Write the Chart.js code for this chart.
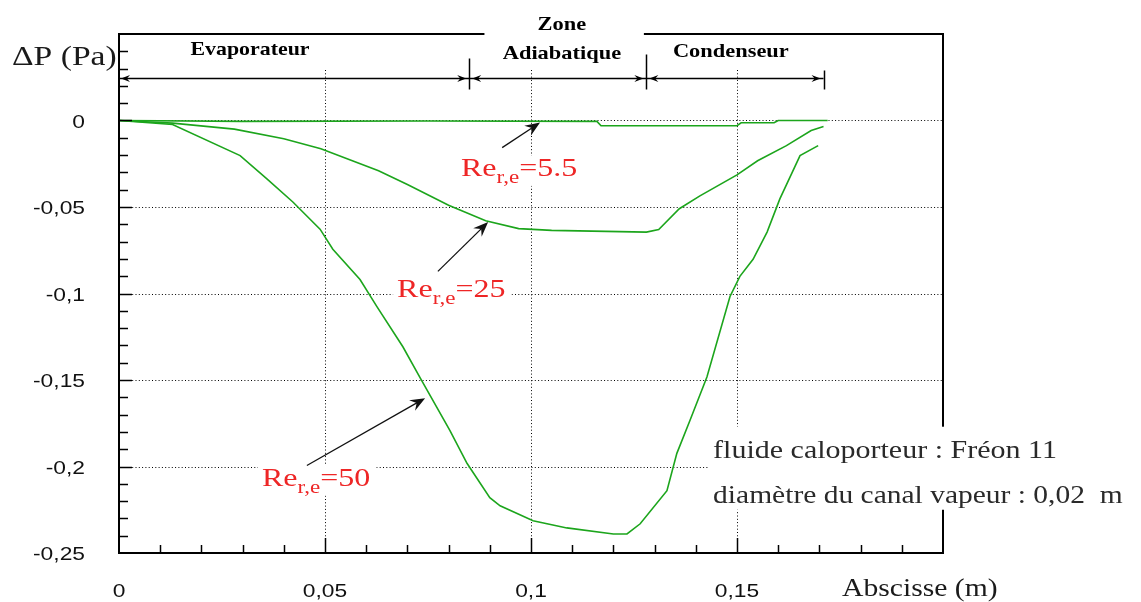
<!DOCTYPE html>
<html>
<head>
<meta charset="utf-8">
<script src="https://cdn.jsdelivr.net/npm/chart.js@4/dist/chart.umd.min.js"></script>
<style>
  html, body { margin: 0; padding: 0; background: #fff; }
  canvas { display: block; }
</style>
</head>
<body>
<canvas id="dpChart" width="1141" height="602"></canvas>
<script>
// abscissa along the heat pipe (m) and pressure drop (Pa)
const xRe55 = [0, 0.03, 0.075, 0.116, 0.117, 0.15, 0.151, 0.159, 0.16, 0.172];
const yRe55 = [0, -0.0005, -0.0003, -0.0005, -0.003, -0.003, -0.0013, -0.0013, 0, 0];

const xRe25 = [0, 0.013, 0.028, 0.04, 0.049, 0.063, 0.07, 0.08, 0.089, 0.097, 0.105, 0.128, 0.131, 0.136, 0.141, 0.15, 0.155, 0.162, 0.168, 0.171];
const yRe25 = [0, -0.0015, -0.005, -0.0105, -0.0163, -0.029, -0.037, -0.049, -0.058, -0.0625, -0.0635, -0.0645, -0.063, -0.051, -0.0436, -0.0314, -0.0233, -0.0145, -0.0058, -0.0035];

const xRe50 = [0, 0.013, 0.0294, 0.0359, 0.0422, 0.0488, 0.0519, 0.0585, 0.0626, 0.0689, 0.0731, 0.0803, 0.0845, 0.09, 0.0925, 0.1005, 0.1087, 0.12, 0.1233, 0.1265, 0.133, 0.1354, 0.1386, 0.1427, 0.1483, 0.1507, 0.1539, 0.1573, 0.1604, 0.1653, 0.1697];
const yRe50 = [0, -0.0023, -0.0203, -0.0337, -0.0471, -0.0628, -0.0744, -0.0919, -0.1076, -0.1308, -0.1488, -0.1791, -0.1983, -0.218, -0.2227, -0.2314, -0.2355, -0.239, -0.239, -0.2331, -0.214, -0.1924, -0.1733, -0.1483, -0.1017, -0.0901, -0.0802, -0.0645, -0.0453, -0.0203, -0.0145];

// tick labels
const xTickValues = [0, 0.05, 0.1, 0.15];
const xTickLabels = ['0', '0,05', '0,1', '0,15'];
const yTickValues = [0, -0.05, -0.1, -0.15, -0.2, -0.25];
const yTickLabels = ['0', '-0,05', '-0,1', '-0,15', '-0,2', '-0,25'];

// zones of the heat pipe (m)
const zoneEdges = [0, 0.085, 0.128, 0.171];

// curve labels: [text value, label x, label y, arrow tail x, tail y, tip x, tip y] in data units
const curveNotes = [
  ['5.5', 0.083, -0.032, 0.093, -0.0157, 0.1022, -0.0012],
  ['25', 0.0675, -0.1023, 0.0774, -0.0872, 0.0896, -0.0587],
  ['50', 0.0347, -0.211, 0.0456, -0.1994, 0.0743, -0.1605]
];

const GREEN = '#1ca51c';
const RED = '#ee2626';

function stretchedText(ctx, str, x, y, font, color, align, sx) {
  ctx.save();
  ctx.font = font;
  const w = ctx.measureText(str).width * sx;
  let left = x;
  if (align === 'center') left = x - w / 2;
  else if (align === 'right') left = x - w;
  ctx.translate(left, y);
  ctx.scale(sx, 1);
  ctx.fillStyle = color;
  ctx.textAlign = 'left';
  ctx.textBaseline = 'alphabetic';
  ctx.fillText(str, 0, 0);
  ctx.restore();
  return w;
}

function textWidth(ctx, str, font, sx) {
  ctx.save();
  ctx.font = font;
  const w = ctx.measureText(str).width * sx;
  ctx.restore();
  return w;
}

function arrowHead(ctx, tipX, tipY, angle, len, half) {
  ctx.save();
  ctx.translate(tipX, tipY);
  ctx.rotate(angle);
  ctx.beginPath();
  ctx.moveTo(0, 0);
  ctx.lineTo(-len, -half);
  ctx.lineTo(-len * 0.65, 0);
  ctx.lineTo(-len, half);
  ctx.closePath();
  ctx.fill();
  ctx.restore();
}

const paperPlugin = {
  id: 'paper',
  beforeDatasetsDraw(chart) {
    const ctx = chart.ctx;
    const xs = chart.scales.x, ys = chart.scales.y;
    const { left, right, top, bottom } = chart.chartArea;
    ctx.save();
    ctx.strokeStyle = '#000';
    ctx.lineWidth = 1;
    ctx.setLineDash([1, 2.3]);
    yTickValues.forEach(v => {
      if (v === -0.25) return;
      const py = Math.round(ys.getPixelForValue(v)) + 0.5;
      ctx.beginPath(); ctx.moveTo(left, py); ctx.lineTo(right, py); ctx.stroke();
    });
    xTickValues.forEach(v => {
      if (v === 0) return;
      const px = Math.round(xs.getPixelForValue(v)) + 0.5;
      ctx.beginPath(); ctx.moveTo(px, top + 36); ctx.lineTo(px, bottom); ctx.stroke();
    });
    ctx.restore();
  },
  afterDraw(chart) {
    const ctx = chart.ctx;
    const xs = chart.scales.x, ys = chart.scales.y;
    const { left, right, top, bottom } = chart.chartArea;
    const X = v => xs.getPixelForValue(v);
    const Y = v => ys.getPixelForValue(v);

    ctx.save();
    // frame
    ctx.strokeStyle = '#000';
    ctx.lineWidth = 2;
    ctx.strokeRect(left, top, right - left, bottom - top);

    // inward ticks every 0.01
    ctx.lineWidth = 1.5;
    for (let i = -24; i <= 4; i++) {
      const py = Math.round(Y(i / 100)) + 0.5;
      const len = i % 5 === 0 ? 13 : 9;
      ctx.beginPath(); ctx.moveTo(left, py); ctx.lineTo(left + len, py); ctx.stroke();
    }
    for (let i = 1; i <= 19; i++) {
      const px = Math.round(X(i / 100)) + 0.5;
      const len = i % 5 === 0 ? 15 : 8;
      ctx.beginPath(); ctx.moveTo(px, bottom); ctx.lineTo(px, bottom - len); ctx.stroke();
    }

    // tick labels
    const tickFont = '19px "Liberation Sans", Arial, sans-serif';
    yTickValues.forEach((v, i) => {
      stretchedText(ctx, yTickLabels[i], left - 34, Y(v) + 7, tickFont, '#111', 'right', 1.2);
    });
    xTickValues.forEach((v, i) => {
      stretchedText(ctx, xTickLabels[i], X(v), bottom + 44, tickFont, '#111', 'center', 1.2);
    });

    // axis titles
    const serif = '"Liberation Serif", "Times New Roman", serif';
    stretchedText(ctx, 'ΔP (Pa)', 12, 65, '28px ' + serif, '#1a1a1a', 'left', 1.2);
    stretchedText(ctx, 'Abscisse (m)', 842, bottom + 43, '26px ' + serif, '#1a1a1a', 'left', 1.14);

    // zone brackets
    const bracketY = Math.round(Y(0.0244)) + 0.5;
    const zoneFont = 'bold 19px ' + serif;
    ctx.fillStyle = '#fff';
    ctx.fillRect(X(0.0887), top - 6, X(0.1274) - X(0.0887), 12);
    ctx.strokeStyle = '#000';
    ctx.fillStyle = '#000';
    ctx.lineWidth = 1.5;
    ctx.beginPath(); ctx.moveTo(X(zoneEdges[0]) + 1, bracketY); ctx.lineTo(X(zoneEdges[3]), bracketY); ctx.stroke();
    [[zoneEdges[1], 31], [zoneEdges[2], 35], [zoneEdges[3], 19]].forEach(([v, h]) => {
      const px = Math.round(X(v)) + 0.5;
      ctx.beginPath(); ctx.moveTo(px, bracketY + 11); ctx.lineTo(px, bracketY + 11 - h); ctx.stroke();
    });
    for (let i = 0; i < 3; i++) {
      const a = X(zoneEdges[i]) + (i === 0 ? 2 : 3);
      const b = X(zoneEdges[i + 1]) - 3;
      arrowHead(ctx, a, bracketY, Math.PI, 9, 3.5);
      arrowHead(ctx, b, bracketY, 0, 9, 3.5);
    }
    stretchedText(ctx, 'Evaporateur', X(0.0318), Y(0.0378), zoneFont, '#000', 'center', 1.15);
    stretchedText(ctx, 'Zone', X(0.1075), Y(0.0523), zoneFont, '#000', 'center', 1.18);
    stretchedText(ctx, 'Adiabatique', X(0.1075), Y(0.0355), zoneFont, '#000', 'center', 1.18);
    stretchedText(ctx, 'Condenseur', X(0.1485), Y(0.0366), zoneFont, '#000', 'center', 1.18);

    // curve labels with pointer arrows
    const bigFont = '25px ' + serif;
    const subFont = '18px ' + serif;
    curveNotes.forEach(([val, lx, ly, tx, ty, hx, hy]) => {
      const px = X(lx), py = Y(ly);
      const w1 = textWidth(ctx, 'Re', bigFont, 1.28);
      const w2 = textWidth(ctx, 'r,e', subFont, 1.28);
      const w3 = textWidth(ctx, '=' + val, bigFont, 1.28);
      ctx.fillStyle = '#fff';
      ctx.fillRect(px - 4, py - 20, w1 + w2 + w3 + 10, 30);
      stretchedText(ctx, 'Re', px, py, bigFont, RED, 'left', 1.28);
      stretchedText(ctx, 'r,e', px + w1, py + 7, subFont, RED, 'left', 1.28);
      stretchedText(ctx, '=' + val, px + w1 + w2, py, bigFont, RED, 'left', 1.28);

      const x0 = X(tx), y0 = Y(ty), x1 = X(hx), y1 = Y(hy);
      const ang = Math.atan2(y1 - y0, x1 - x0);
      ctx.strokeStyle = '#111';
      ctx.fillStyle = '#111';
      ctx.lineWidth = 1.3;
      ctx.beginPath(); ctx.moveTo(x0, y0); ctx.lineTo(x1 - 8 * Math.cos(ang), y1 - 8 * Math.sin(ang)); ctx.stroke();
      arrowHead(ctx, x1, y1, ang, 15, 6);
    });

    // fluid notes
    const noteFont = '25px ' + serif;
    ctx.fillStyle = '#fff';
    ctx.fillRect(X(0.1430), Y(-0.1770), 1141 - X(0.1430), Y(-0.2250) - Y(-0.1770));
    stretchedText(ctx, 'fluide caloporteur : Fréon 11', X(0.1442), Y(-0.1948), noteFont, '#2a2a2a', 'left', 1.2);
    stretchedText(ctx, 'diamètre du canal vapeur : 0,02  m', X(0.1442), Y(-0.2209), noteFont, '#2a2a2a', 'left', 1.18);
    ctx.restore();
  }
};

function curve(xs, ys) {
  return {
    data: xs.map((x, i) => ({ x: x, y: ys[i] })),
    showLine: true,
    borderColor: GREEN,
    borderWidth: 1.6,
    pointRadius: 0,
    fill: false,
    tension: 0
  };
}

new Chart(document.getElementById('dpChart'), {
  type: 'scatter',
  data: {
    datasets: [curve(xRe55, yRe55), curve(xRe25, yRe25), curve(xRe50, yRe50)]
  },
  options: {
    responsive: false,
    animation: false,
    devicePixelRatio: 1,
    layout: { padding: { top: 34, right: 198, left: 0, bottom: 0 } },
    plugins: { legend: { display: false }, tooltip: { enabled: false } },
    scales: {
      x: {
        type: 'linear', min: 0, max: 0.2,
        ticks: { display: false }, grid: { display: false }, border: { display: false },
        afterFit(s) { s.height = 49; }
      },
      y: {
        type: 'linear', min: -0.25, max: 0.05,
        ticks: { display: false }, grid: { display: false }, border: { display: false },
        afterFit(s) { s.width = 119; }
      }
    }
  },
  plugins: [paperPlugin]
});
</script>
</body>
</html>
